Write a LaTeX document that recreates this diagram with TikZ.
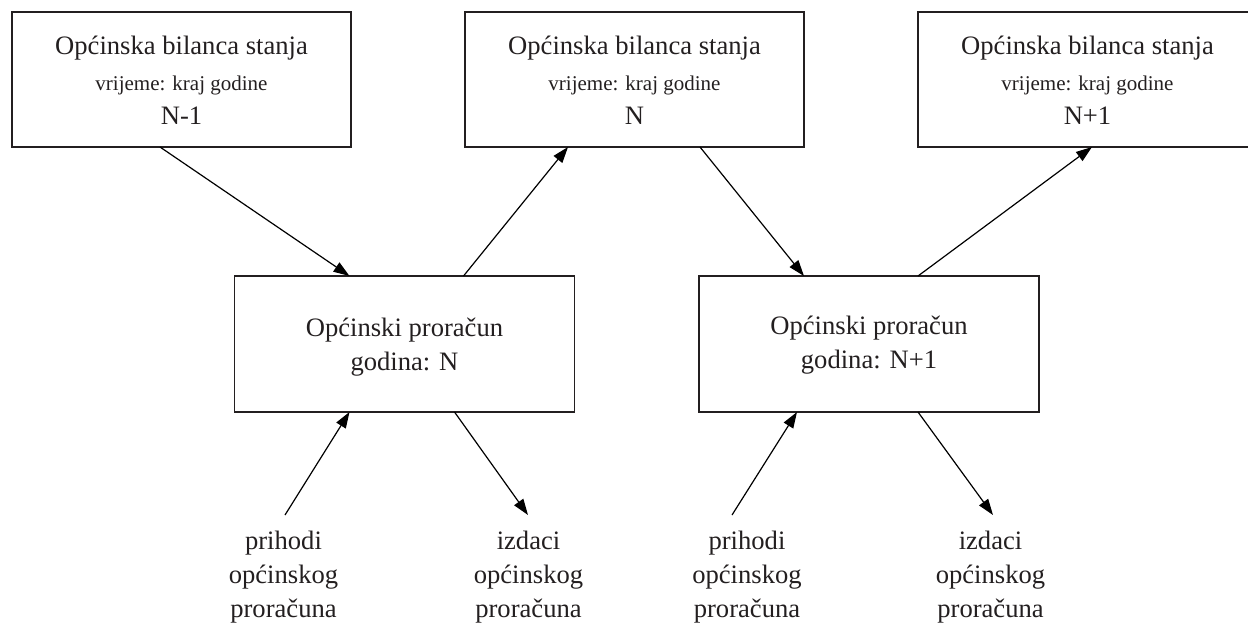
\documentclass[tikz,border=0pt]{standalone}
\usepackage{fontspec}
\setmainfont{Liberation Serif}
\usetikzlibrary{arrows.meta,calc}
\definecolor{ink}{HTML}{231F20}
\begin{document}
\begin{tikzpicture}[x=1pt,y=-1pt,
  box/.style={draw=ink,line width=1.4pt,minimum width=339pt,minimum height=135pt,inner sep=0pt,outer sep=0pt},
  lowbox/.style={box,minimum height=136pt,minimum width=340pt},
  big/.style={font=\fontsize{26.6}{32}\selectfont,text=ink,inner sep=0pt,anchor=base},
  small/.style={font=\fontsize{21}{26}\selectfont,text=ink,inner sep=0pt,anchor=base},
  conn/.style={draw=black,line width=1.2pt,-{Triangle[length=16pt,width=11pt]}}
]
\useasboundingbox (0,0) rectangle (1248,622);

% top boxes (balance sheets)
\node[box] (b1) at (181.5,79.5) {};
\node[box] (b2) at (634.5,79.5) {};
\node[box] (b3) at (1087.5,79.5) {};
% budget boxes
\node[lowbox] (b4) at (404.5,344) {};
\node[lowbox] (b5) at (869,344) {};

% texts in top boxes
\node[big]   (t1a) at ($(b1.north)+(0,42.3)$) {Općinska bilanca stanja};
\node[small] (t1b) at ($(b1.north)+(0,78.7)$) {vrijeme: kraj godine};
\node[big]   (t1c) at ($(b1.north)+(0,112)$) {N-1};
\node[big]   (t2a) at ($(b2.north)+(0,42.3)$) {Općinska bilanca stanja};
\node[small] (t2b) at ($(b2.north)+(0,78.7)$) {vrijeme: kraj godine};
\node[big]   (t2c) at ($(b2.north)+(0,112)$) {N};
\node[big]   (t3a) at ($(b3.north)+(0,42.3)$) {Općinska bilanca stanja};
\node[small] (t3b) at ($(b3.north)+(0,78.7)$) {vrijeme: kraj godine};
\node[big]   (t3c) at ($(b3.north)+(0,112)$) {N+1};

% texts in budget boxes
\node[big] (t4a) at ($(b4.north)+(0,60)$) {Općinski proračun};
\node[big] (t4b) at ($(b4.north)+(0,94)$) {godina: N};
\node[big] (t5a) at ($(b5.north)+(0,58)$) {Općinski proračun};
\node[big] (t5b) at ($(b5.north)+(0,92)$) {godina: N+1};

% bottom labels
\node[big] (l1a) at (283.5,549) {prihodi};
\node[big] (l1b) at (283.5,583) {općinskog};
\node[big] (l1c) at (283.5,617) {proračuna};
\node[big] (l2a) at (528.5,549) {izdaci};
\node[big] (l2b) at (528.5,583) {općinskog};
\node[big] (l2c) at (528.5,617) {proračuna};
\node[big] (l3a) at (747,549) {prihodi};
\node[big] (l3b) at (747,583) {općinskog};
\node[big] (l3c) at (747,617) {proračuna};
\node[big] (l4a) at (990.5,549) {izdaci};
\node[big] (l4b) at (990.5,583) {općinskog};
\node[big] (l4c) at (990.5,617) {proračuna};

% free ends of the flow arrows
\coordinate (p1) at (285,515);
\coordinate (e1) at (528,515);
\coordinate (p2) at (732,515);
\coordinate (e2) at (993,515);

% connectors between boxes
\draw[conn] ($(b1.south west)+(148,0)$) -- ($(b4.north west)+(115,0)$);
\draw[conn] ($(b4.north west)+(229,0)$) -- ($(b2.south west)+(103,0)$);
\draw[conn] ($(b2.south west)+(235,0)$) -- ($(b5.north west)+(105,0)$);
\draw[conn] ($(b5.north west)+(219,0)$) -- ($(b3.south west)+(174,0)$);

% revenues and expenditures
\draw[conn] (p1) -- ($(b4.south west)+(115,0)$);
\draw[conn] ($(b4.south west)+(220,0)$) -- (e1);
\draw[conn] (p2) -- ($(b5.south west)+(98,0)$);
\draw[conn] ($(b5.south west)+(219,0)$) -- (e2);
\end{tikzpicture}
\end{document}
